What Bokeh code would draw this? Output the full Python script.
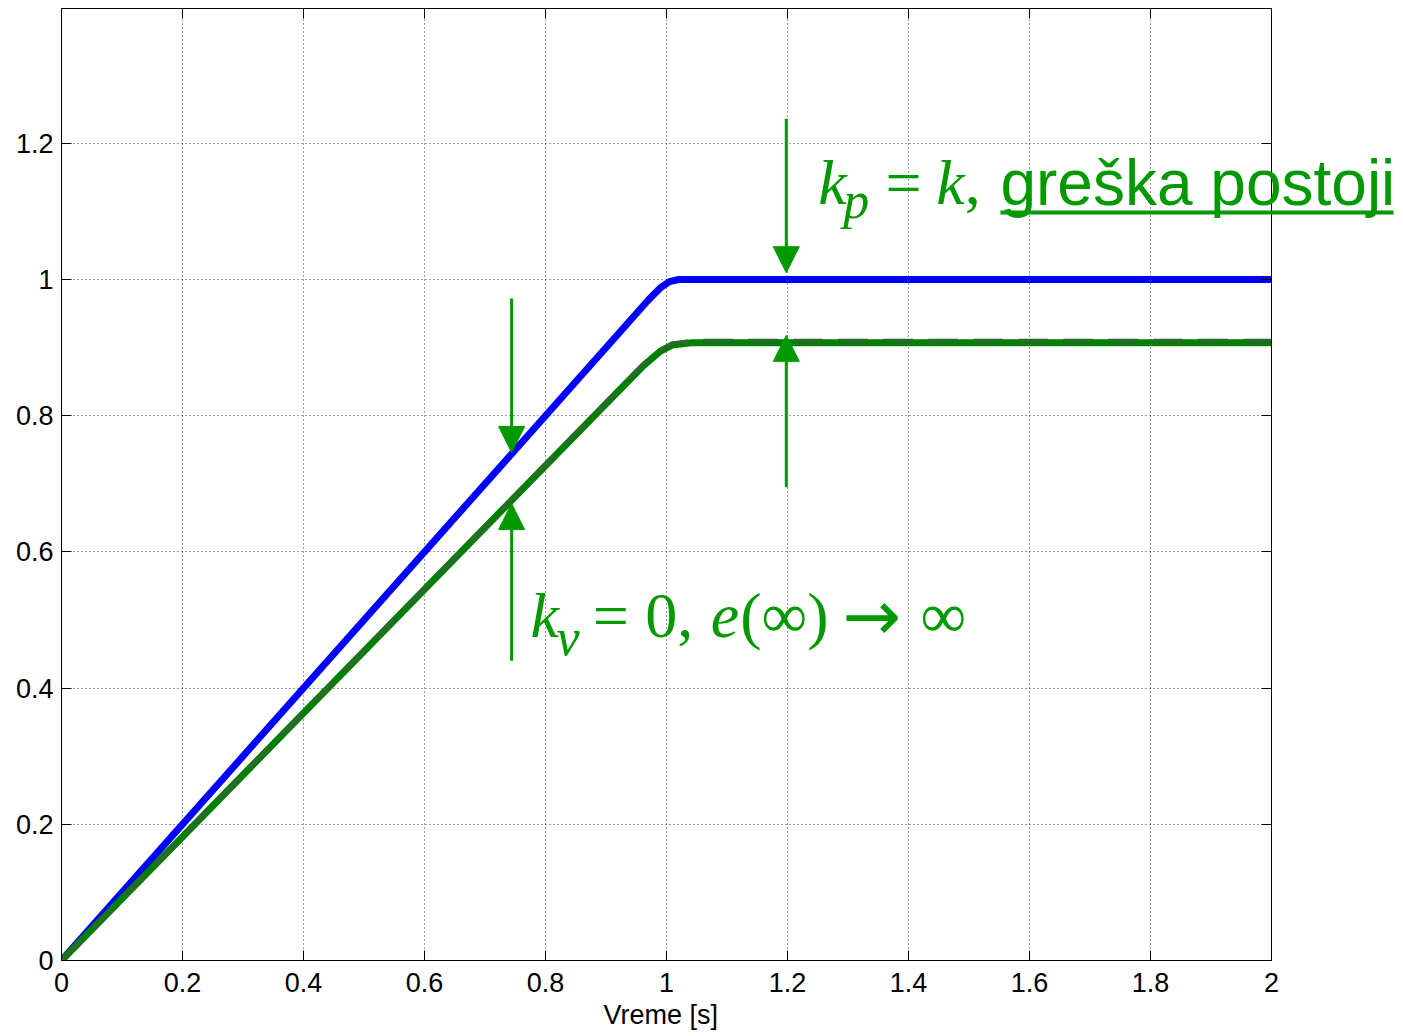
from bokeh.plotting import figure
from bokeh.models import Label, Arrow, NormalHead, LinearAxis, FixedTicker, Title
from bokeh.embed import file_html
from bokeh.resources import INLINE

# ---- data ----
t_blue = [0.0, 0.97, 0.99, 1.005, 1.02, 2.0]
y_blue = [0.0, 0.97, 0.988, 0.997, 1.0, 1.0]
t_green = [0.0, 0.96, 0.99, 1.01, 1.04, 2.0]
y_green = [0.0, 0.872, 0.895, 0.904, 0.907, 0.907]
y_green_dash = [0.0, 0.874, 0.897, 0.906, 0.910, 0.910]
x_ticks = [0, 0.2, 0.4, 0.6, 0.8, 1.0, 1.2, 1.4, 1.6, 1.8, 2.0]
x_tick_labels = ["0", "0.2", "0.4", "0.6", "0.8", "1", "1.2", "1.4", "1.6", "1.8", "2"]
y_ticks = [0, 0.2, 0.4, 0.6, 0.8, 1.0, 1.2]
y_tick_labels = ["0", "0.2", "0.4", "0.6", "0.8", "1", "1.2"]
x_label = "Vreme [s]"

X_MAX = 2.0
Y_MAX = 1.398
GREEN = "#009a00"
TICKFONT = "Liberation Sans"

# frame extends into the right margin so the annotation text can overflow the axes box
W, H = 1403, 1036
LEFT, RIGHT_BOX, TOP, BOTTOM = 61, 1271, 8, 76
x_view_end = X_MAX * (W - LEFT) / (RIGHT_BOX - LEFT)

p = figure(width=W, height=H, x_range=(0, x_view_end), y_range=(0, Y_MAX),
           output_backend="svg", toolbar_location=None,
           min_border_left=LEFT, min_border_right=0, min_border_top=TOP, min_border_bottom=BOTTOM)
p.background_fill_color = "white"
p.border_fill_color = "white"
p.outline_line_color = None

for ax in (p.xaxis[0], p.yaxis[0]):
    ax.major_tick_in = 10
    ax.major_tick_out = 0
    ax.minor_tick_in = 0
    ax.minor_tick_out = 0
    ax.axis_line_color = "black"
    ax.major_tick_line_color = "black"
    ax.major_label_text_font = TICKFONT
    ax.major_label_text_font_size = "27px"
    ax.major_label_text_color = "black"

p.xaxis[0].bounds = (0, X_MAX)
p.xaxis[0].ticker = FixedTicker(ticks=x_ticks)
p.xaxis[0].major_label_overrides = {v: s for v, s in zip(x_ticks, x_tick_labels)}
p.xaxis[0].major_label_standoff = 12
p.yaxis[0].ticker = FixedTicker(ticks=y_ticks)
p.yaxis[0].major_label_overrides = {v: s for v, s in zip(y_ticks, y_tick_labels)}
p.yaxis[0].major_label_standoff = 8

# x-axis label, centred under the axes box (not under the widened frame)
p.add_layout(Title(text=x_label, align="left", offset=542,
                   text_font=TICKFONT, text_font_size="27px", text_font_style="normal",
                   text_color="black", standoff=6), "below")

# top edge with ticks (no labels)
top = LinearAxis(ticker=FixedTicker(ticks=x_ticks), bounds=(0, X_MAX),
                 major_label_overrides={v: "" for v in x_ticks},
                 major_tick_in=10, major_tick_out=0, minor_tick_in=0, minor_tick_out=0,
                 major_label_standoff=0, axis_line_color="black")
p.add_layout(top, "above")
# right edge of the box at x = X_MAX, with inward ticks (no labels)
right = LinearAxis(ticker=FixedTicker(ticks=y_ticks), fixed_location=X_MAX,
                   major_label_overrides={v: "" for v in y_ticks},
                   major_tick_in=10, major_tick_out=0, minor_tick_in=0, minor_tick_out=0,
                   major_label_standoff=0, axis_line_color="black")
p.add_layout(right, "right")

p.xgrid[0].ticker = FixedTicker(ticks=x_ticks)
p.ygrid[0].ticker = FixedTicker(ticks=y_ticks)
for g in (p.xgrid[0], p.ygrid[0]):
    g.grid_line_color = "#333333"
    g.grid_line_dash = "1 3"
    g.grid_line_width = 1
try:
    p.ygrid[0].cross_bounds = (0, X_MAX)
except Exception:
    p.ygrid[0].visible = False
    p.segment(x0=[0] * len(y_ticks[1:]), x1=[X_MAX] * len(y_ticks[1:]),
              y0=y_ticks[1:], y1=y_ticks[1:],
              line_color="#333333", line_dash="1 3", line_width=1)

# series
p.line(t_blue, y_blue, line_color="#0000ff", line_width=7)
p.line(t_green, y_green, line_color="#008000", line_width=7)
p.line(t_green, y_green_dash, line_color="#2a6a2a", line_width=4, line_dash="30 15")

def arrow(x, y0, y1):
    p.add_layout(Arrow(end=NormalHead(size=26, fill_color=GREEN, line_color=GREEN, line_width=1),
                       x_start=x, y_start=y0, x_end=x, y_end=y1,
                       line_color=GREEN, line_width=3))

arrow(1.198, 1.236, 1.010)
arrow(1.198, 0.695, 0.918)
arrow(0.744, 0.972, 0.746)
arrow(0.744, 0.440, 0.671)

PX = 1.0 / 681.0  # data units per vertical pixel
SHIFT = 23 * PX   # baseline correction

def lab(x, y, text, size, font="Liberation Serif", style="normal"):
    p.add_layout(Label(x=x, y=y + SHIFT, text=text,
                       text_font=font, text_font_style=style,
                       text_font_size=size, text_color=GREEN,
                       text_align="left", text_baseline="alphabetic"))

# annotation 1: k_p = k, greška postoji
lab(1.251, 1.1087, "k", "64px", style="italic")
lab(1.292, 1.0830, "p", "52px", style="italic")
lab(1.362, 1.1087, "=", "64px")
lab(1.446, 1.1087, "k", "64px", style="italic")
lab(1.493, 1.1087, ",", "64px")
lab(1.552, 1.1087, "greška postoji", "64px", font="Liberation Sans")
p.add_layout(Arrow(end=None, x_start=1.552, y_start=1.0984, x_end=2.2017, y_end=1.0984,
                   line_color=GREEN, line_width=4))

# annotation 2: k_v = 0, e(∞) → ∞
lab(0.775, 0.4728, "k", "64px", style="italic")
lab(0.818, 0.441, "v", "52px", style="italic")
lab(0.878, 0.4728, "=", "64px")
lab(0.965, 0.4728, "0,", "64px")
lab(1.073, 0.4728, "e", "64px", style="italic")
lab(1.122, 0.4728, "(∞)", "64px")
lab(1.291, 0.4728, "→", "70px", font="DejaVu Sans")
lab(1.420, 0.4728, "∞", "64px")

open("out.html", "w").write(file_html(p, INLINE))
